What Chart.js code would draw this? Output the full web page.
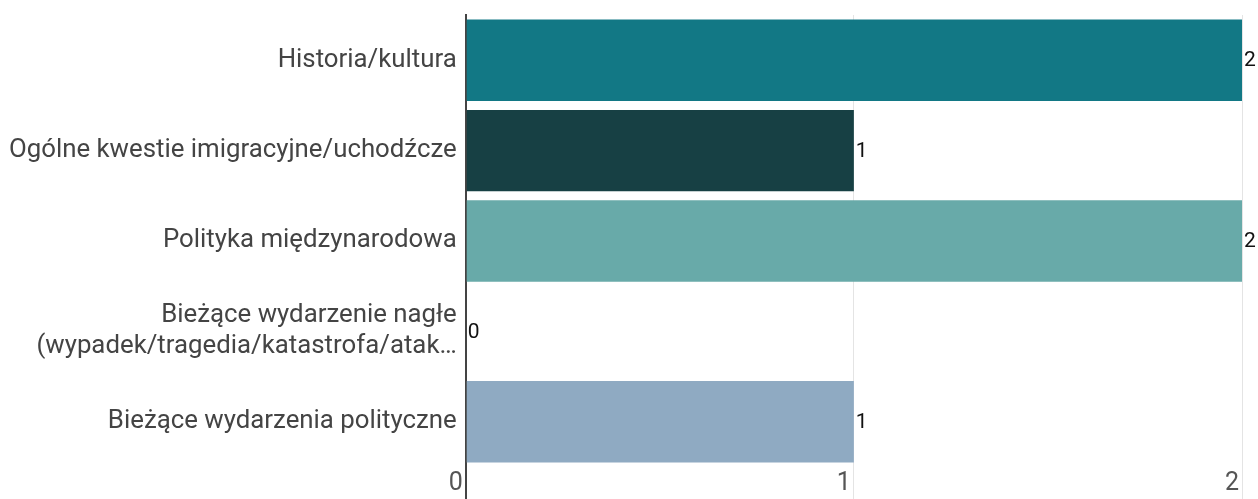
<!DOCTYPE html>
<html>
<head>
<meta charset="utf-8">
<script src="https://cdn.jsdelivr.net/npm/chart.js@4"></script>
<style>
  html, body { margin: 0; padding: 0; background: #fff; }
  #wrap { width: 1258px; height: 499px; }
</style>
</head>
<body>
<div id="wrap"><canvas id="grafico"></canvas></div>
<script>
// categorías y valores
var kategorie = [
    'Historia/kultura',
    'Ogólne kwestie imigracyjne/uchodźcze',
    'Polityka międzynarodowa',
    ['Bieżące wydarzenie nagłe', '(wypadek/tragedia/katastrofa/atak…'],
    'Bieżące wydarzenia polityczne'
];
var wartosci = [2, 1, 2, 0, 1];
var kolory = ['#127885', '#174044', '#68aaa9', '#4a7f8c', '#8faac2'];
var etykietyX = [0, 1, 2];

// etiquetas de valor al final de cada barra
var etiquetasValor = {
    id: 'etiquetasValor',
    afterDatasetsDraw: function(chart) {
        var ctx = chart.ctx;
        var meta = chart.getDatasetMeta(0);
        ctx.save();
        ctx.font = '21px Roboto';
        ctx.fillStyle = '#111';
        ctx.textAlign = 'left';
        ctx.textBaseline = 'middle';
        meta.data.forEach(function(bar, i) {
            ctx.fillText(String(wartosci[i]), bar.x + 2, bar.y + 1);
        });
        ctx.restore();
    }
};

document.addEventListener("DOMContentLoaded", function() {
    var ctx = document.getElementById('grafico').getContext('2d');
    new Chart(ctx, {
        type: 'bar',
        data: {
            labels: kategorie,
            datasets: [{
                data: wartosci,
                backgroundColor: kolory,
                borderWidth: 0,
                barPercentage: 0.9,
                categoryPercentage: 1.0
            }]
        },
        options: {
            indexAxis: 'y',
            responsive: true,
            maintainAspectRatio: false,
            animation: false,
            layout: { padding: { top: 15, right: 16, left: 0, bottom: 0 } },
            plugins: {
                legend: { display: false },
                tooltip: { enabled: false }
            },
            scales: {
                x: {
                    min: 0,
                    max: 2,
                    afterBuildTicks: function(axis) {
                        axis.ticks = etykietyX.map(function(v) { return { value: v }; });
                    },
                    afterFit: function(scale) {
                        scale.height = 32;
                    },
                    grid: {
                        color: function(c) { return c.index === 0 ? '#444' : '#e4e4e4'; },
                        lineWidth: function(c) { return c.index === 0 ? 2 : 1; },
                        drawTicks: true,
                        tickLength: 32
                    },
                    border: { display: false },
                    ticks: {
                        align: 'end',
                        padding: -30,
                        labelOffset: -3,
                        color: '#555',
                        font: { family: 'Roboto', size: 25 }
                    }
                },
                y: {
                    afterFit: function(scale) {
                        scale.paddingTop = 0;
                        scale.paddingBottom = 0;
                    },
                    grid: { display: false, drawTicks: false },
                    border: { display: true, color: '#444', width: 2 },
                    ticks: {
                        padding: 9,
                        color: '#444',
                        font: { family: 'Roboto', size: 25.8 }
                    }
                }
            }
        },
        plugins: [etiquetasValor]
    });
});
</script>
</body>
</html>
